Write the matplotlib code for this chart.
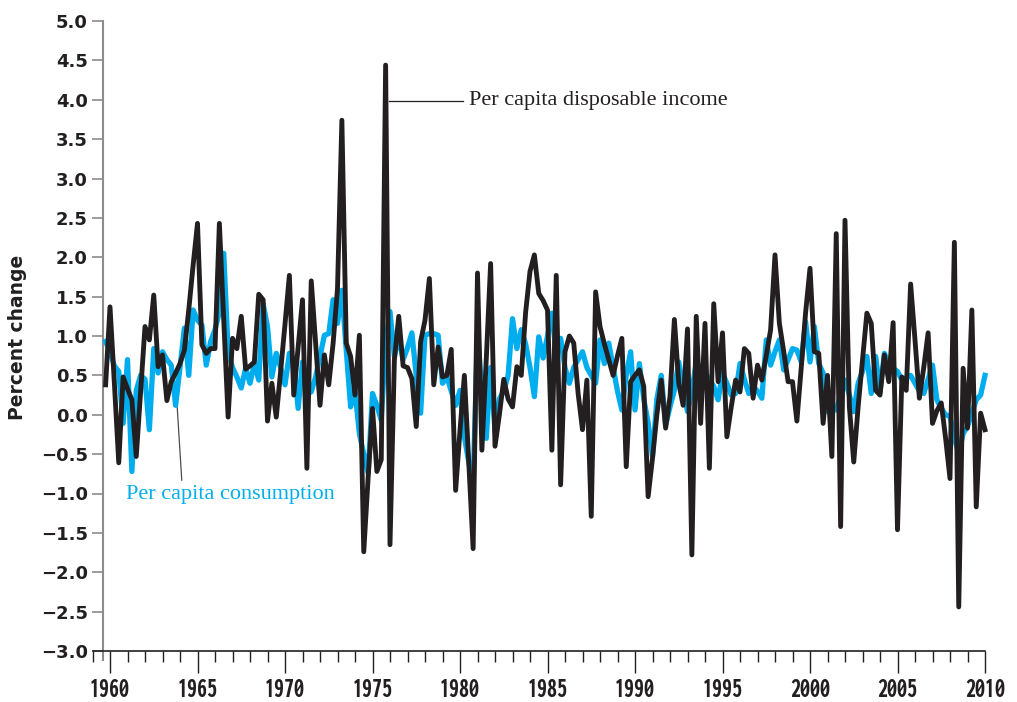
import os
import numpy as np
import matplotlib.pyplot as plt
from matplotlib import font_manager as fm
from matplotlib.ticker import MultipleLocator, FuncFormatter

# Quarterly percent change, per capita, starting with 1959 Q3
income = [
    0.38, 1.37, 0.4, -0.61, 0.48, 0.33, 0.19, -0.53, 0.3, 1.12,
    0.95, 1.52, 0.61, 0.76, 0.18, 0.42, 0.53, 0.65, 0.82, 1.33,
    1.9, 2.43, 0.89, 0.78, 0.84, 0.84, 2.43, 1.2, -0.03, 0.97,
    0.84, 1.25, 0.58, 0.62, 0.67, 1.53, 1.46, -0.08, 0.4, -0.03,
    0.55, 1.15, 1.77, 0.25, 0.85, 1.46, -0.68, 1.7, 0.9, 0.12,
    0.76, 0.38, 0.91, 1.6, 3.74, 0.91, 0.74, 0.25, 1.01, -1.74,
    -0.8, 0.08, -0.72, -0.57, 4.44, -1.65, 0.7, 1.25, 0.62, 0.6,
    0.46, -0.15, 0.93, 1.2, 1.73, 0.38, 0.86, 0.48, 0.5, 0.83,
    -0.96, -0.2, 0.5, -0.6, -1.7, 1.8, -0.45, 0.7, 1.92, -0.4,
    0.0, 0.45, 0.2, 0.1, 0.61, 0.5, 1.3, 1.82, 2.03, 1.54,
    1.45, 1.33, -0.45, 1.77, -0.89, 0.8, 1.0, 0.91, 0.27, -0.19,
    0.44, -1.29, 1.56, 1.12, 0.9, 0.7, 0.5, 0.75, 0.97, -0.66,
    0.42, 0.5, 0.57, 0.36, -1.04, -0.55, 0.0, 0.44, -0.17, 0.23,
    1.21, 0.4, 0.12, 1.09, -1.78, 1.25, -0.11, 1.16, -0.68, 1.41,
    0.42, 1.04, -0.28, 0.1, 0.44, 0.29, 0.84, 0.78, 0.21, 0.63,
    0.44, 0.75, 1.08, 2.03, 1.16, 0.8, 0.42, 0.42, -0.08, 0.6,
    1.3, 1.86, 0.8, 0.78, -0.11, 0.5, -0.53, 2.3, -1.42, 2.47,
    0.1, -0.6, 0.1, 0.7, 1.29, 1.16, 0.31, 0.25, 0.76, 0.42,
    1.17, -1.46, 0.48, 0.31, 1.66, 0.95, 0.21, 0.6, 1.04, -0.11,
    0.05, 0.15, -0.3, -0.81, 2.19, -2.44, 0.59, -0.17, 1.33, -1.17,
    0.02, -0.19,
]

consumption = [
    0.93, 0.8, 0.62, 0.55, -0.11, 0.7, -0.72, 0.31, 0.5, 0.45,
    -0.19, 0.84, 0.53, 0.8, 0.7, 0.63, 0.12, 0.6, 1.1, 0.5,
    1.33, 1.2, 1.14, 0.63, 0.93, 1.08, 1.3, 2.05, 0.8, 0.6,
    0.48, 0.34, 0.59, 0.4, 0.65, 0.44, 1.41, 1.12, 0.48, 0.78,
    0.6, 0.38, 0.78, 0.67, 0.08, 0.67, 0.27, 0.29, 0.48, 0.74,
    1.01, 1.03, 1.46, 1.16, 1.58, 0.82, 0.1, 0.31, -0.24, -0.5,
    -0.74, 0.27, 0.12, -0.07, 0.91, 1.31, 0.74, 0.99, 0.7, 0.85,
    1.04, 0.5, 0.02, 1.01, 1.03, 1.03, 1.01, 0.4, 0.48, 0.3,
    0.12, 0.31, -0.28, -0.6, -0.87, 1.03, 0.3, -0.3, 0.6, -0.2,
    0.2, 0.3, 0.5, 1.22, 0.84, 1.08, 0.9, 0.6, 0.23, 0.99,
    0.72, 1.0, 1.29, 0.76, 0.97, 0.6, 0.4, 0.6, 0.7, 0.8,
    0.6, 0.5, 0.4, 0.95, 0.65, 0.91, 0.6, 0.3, 0.06, 0.5,
    0.8, 0.06, 0.65, 0.2, -0.1, -0.53, 0.2, 0.5, -0.13, 0.1,
    0.31, 0.67, 0.35, 0.04, 0.3, 0.67, 0.6, 0.53, 0.45, 0.36,
    0.19, 0.53, 0.4, 0.25, 0.27, 0.65, 0.45, 0.27, 0.36, 0.3,
    0.21, 0.95, 0.63, 0.8, 0.95, 0.57, 0.7, 0.84, 0.82, 0.67,
    1.18, 0.67, 1.12, 0.65, 0.53, 0.04, 0.1, 0.06, 0.25, 0.44,
    0.25, 0.04, 0.4, 0.55, 0.74, 0.27, 0.74, 0.29, 0.78, 0.65,
    0.59, 0.55, 0.44, 0.47, 0.5, 0.4, 0.3, 0.27, 0.45, 0.63,
    0.19, 0.08, 0.0, -0.02, -0.3, -0.49, -0.24, -0.15, 0.02, 0.19,
    0.25, 0.5,
]

first_quarter = 1959.75  # 1959 Q3, plotted at the end of the quarter

ink = '#231f20'
cyan = '#00aeef'
grey = '#8c8c8e'


def year_label_font():
    # a condensed heavy face for the year labels, if the system has one
    names = [os.path.basename(f.fname) for f in fm.fontManager.ttflist]
    paths = [f.fname for f in fm.fontManager.ttflist]
    for key, size in [('ExtraCondensedExtraBold.', 20.5), ('ExtraCondensedBold.', 20.5),
                      ('SemiCondensedBold.', 15), ('CondensedBold.', 16),
                      ('Condensed-Bold.', 15), ('Narrow-Bold.', 15)]:
        for name, path in zip(names, paths):
            if key in name:
                return fm.FontProperties(fname=path, size=size)
    return fm.FontProperties(family='Liberation Sans', weight='bold', size=14)


x = first_quarter + 0.25 * np.arange(len(income))

fig = plt.figure(figsize=(10.17, 7.02), dpi=100)
ax = fig.add_axes([92.5 / 1017, 51 / 702, (985 - 92.5) / 1017, 630 / 702])

ax.plot(x, consumption, color=cyan, lw=3.8, clip_on=False, zorder=3)
ax.plot(x, income, color=ink, lw=3.5, clip_on=False, zorder=4)

ax.set_xlim(1959, 2010)
ax.set_ylim(-3, 5)

for side in ['top', 'right']:
    ax.spines[side].set_visible(False)
ax.spines['left'].set_position(('data', 1959.6))
ax.spines['left'].set_color(grey)
ax.spines['left'].set_linewidth(1.5)
ax.spines['left'].set_bounds(-3.12, 5.0)
ax.spines['bottom'].set_color(ink)
ax.spines['bottom'].set_linewidth(1.2)

ax.xaxis.set_major_locator(MultipleLocator(5))
ax.xaxis.set_minor_locator(MultipleLocator(1))
ax.yaxis.set_major_locator(MultipleLocator(0.5))
ax.yaxis.set_major_formatter(FuncFormatter(lambda v, p: f'{v:.1f}'.replace('-', '\u2212')))

ax.tick_params(axis='x', which='major', length=15.5, width=1.0, color=ink, pad=3.5)
ax.tick_params(axis='x', which='minor', length=8, width=1.0, color=ink)
ax.tick_params(axis='y', length=8, width=1.2, color=grey, pad=3)

year_font = year_label_font()
for lab in ax.get_xticklabels():
    lab.set_fontproperties(year_font)
    lab.set_color(ink)
for lab in ax.get_yticklabels():
    lab.set_fontfamily('DejaVu Sans')
    lab.set_fontweight('bold')
    lab.set_fontsize(13)
    lab.set_color(ink)

fig.text(18 / 1017, 1 - 337 / 702, 'Percent change', rotation=90, ha='center', va='center',
         fontsize=13.5, fontweight='bold', color=ink)

# labels with leader lines
ax.plot([1975.94, 1980.15], [3.99, 3.99], color=ink, lw=0.9, zorder=2)
ax.text(1980.5, 3.99, 'Per capita disposable income', family='Liberation Serif',
        fontsize=16, color=ink, va='center', ha='left')
ax.plot([1963.84, 1964.1], [0.10, -0.83], color='#4d4d4f', lw=0.9, zorder=2)
ax.text(1960.9, -1.01, 'Per capita consumption', family='Liberation Serif',
        fontsize=16, color=cyan, va='center', ha='left')

fig.savefig('out.png', dpi=100)
